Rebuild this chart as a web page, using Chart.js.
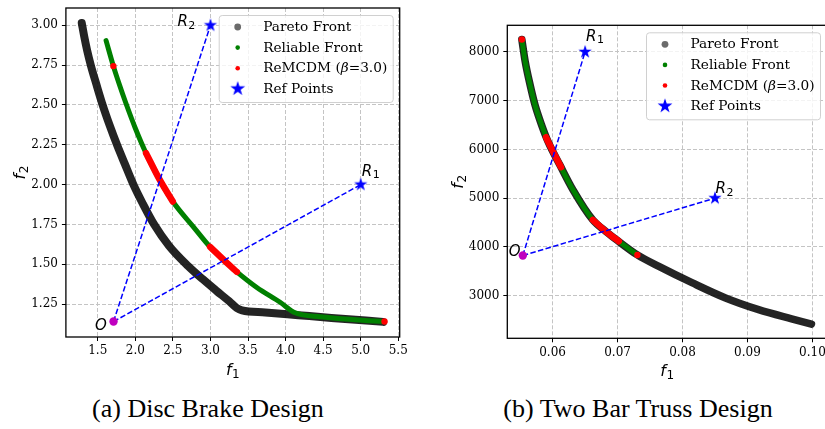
<!DOCTYPE html>
<html>
<head>
<meta charset="utf-8">
<script src="https://cdn.jsdelivr.net/npm/chart.js@4.4.0/dist/chart.umd.min.js"></script>
<style>
  body { margin: 0; background: #fff; width: 825px; height: 429px; overflow: hidden; position: relative; }
  canvas { position: absolute; top: 0; }
  #discChart { left: 0; }
  #trussChart { left: 415px; }
  .caption { position: absolute; top: 394px; width: 400px; text-align: center;
             font-family: "Liberation Serif", serif; font-size: 26px; color: #000; white-space: nowrap; }
</style>
</head>
<body>
<canvas id="discChart" width="415" height="390"></canvas>
<canvas id="trussChart" width="420" height="390"></canvas>
<div class="caption" style="left: 8px;">(a) Disc Brake Design</div>
<div class="caption" style="left: 438px;">(b) Two Bar Truss Design</div>

<script>
// ---- (a) Disc brake design ----
const discParetoX = [1.287, 1.32, 1.36, 1.41, 1.48, 1.565, 1.66, 1.76, 1.86, 1.975, 2.10, 2.25, 2.45, 2.70, 2.90, 3.08, 3.25, 3.35, 3.42, 3.73, 4.17, 4.61, 5.30];
const discParetoY = [3.015, 2.93, 2.84, 2.745, 2.632, 2.50, 2.37, 2.245, 2.13, 2.00, 1.88, 1.75, 1.615, 1.49, 1.405, 1.333, 1.267, 1.225, 1.21, 1.197, 1.180, 1.163, 1.138];
const discReliableX = [1.611, 1.708, 1.79, 1.87, 2.0, 2.143, 2.32, 2.499, 2.773, 2.995, 3.226, 3.351, 3.617, 3.927, 4.127, 4.46, 5.30];
const discReliableY = [2.904, 2.744, 2.625, 2.517, 2.354, 2.197, 2.034, 1.894, 1.735, 1.609, 1.505, 1.452, 1.354, 1.261, 1.195, 1.170, 1.140];
const discRemcdmAX = [2.143, 2.32, 2.499];
const discRemcdmAY = [2.197, 2.034, 1.894];
const discRemcdmBX = [2.995, 3.226, 3.351];
const discRemcdmBY = [1.609, 1.505, 1.452];
const discRemcdmDotX = [1.708, 5.317];
const discRemcdmDotY = [2.744, 1.140];
const discRefX = [5.0, 3.0];
const discRefY = [2.0, 3.0];
const discOriginX = [1.71];
const discOriginY = [1.14];
const discXTicks = [1.5, 2.0, 2.5, 3.0, 3.5, 4.0, 4.5, 5.0, 5.5];
const discYTicks = [1.25, 1.50, 1.75, 2.00, 2.25, 2.50, 2.75, 3.00];

// ---- (b) Two bar truss design ----
const trussParetoX = [0.05527, 0.05578, 0.05654, 0.0573, 0.05832, 0.05933, 0.06111, 0.06314, 0.06619, 0.06823, 0.0700, 0.07305, 0.07636, 0.08153, 0.08662, 0.09171, 0.09679, 0.09985];
const trussParetoY = [8254, 7806, 7324, 6911, 6498, 6153, 5684, 5171, 4554, 4314, 4130, 3836, 3600, 3261, 2953, 2713, 2525, 2418];
const trussReliableX = [0.05527, 0.05578, 0.05654, 0.0573, 0.05832, 0.05933, 0.06111, 0.06314, 0.06619, 0.06823, 0.0700, 0.07305];
const trussReliableY = [8254, 7806, 7324, 6911, 6498, 6153, 5684, 5171, 4554, 4314, 4130, 3836];
const trussRemcdmAX = [0.0590, 0.05933, 0.0603, 0.0613];
const trussRemcdmAY = [6250, 6153, 5897, 5636];
const trussRemcdmBX = [0.06619, 0.06823, 0.0702];
const trussRemcdmBY = [4554, 4314, 4115];
const trussRemcdmDotX = [0.05527, 0.07305];
const trussRemcdmDotY = [8254, 3836];
const trussRefX = [0.065, 0.085];
const trussRefY = [8000, 5000];
const trussOriginX = [0.05542];
const trussOriginY = [3824];
const trussXTicks = [0.06, 0.07, 0.08, 0.09, 0.10];
const trussYTicks = [3000, 4000, 5000, 6000, 7000, 8000];

const legendLabels = ['Pareto Front', 'Reliable Front', 'ReMCDM (β=3.0)', 'Ref Points'];

const pts = (xs, ys) => xs.map((x, i) => ({ x: x, y: ys[i] }));

// filled five point star, like matplotlib's '*' marker
function starImage(radius) {
    const size = Math.ceil(radius * 2 + 2);
    const c = document.createElement('canvas');
    c.width = size;
    c.height = size;
    const g = c.getContext('2d');
    g.beginPath();
    for (let i = 0; i < 10; i++) {
        const r = i % 2 === 0 ? radius : radius * 0.382;
        const a = -Math.PI / 2 + i * Math.PI / 5;
        g.lineTo(size / 2 + r * Math.cos(a), size / 2 + r * Math.sin(a));
    }
    g.closePath();
    g.fillStyle = '#0000ff';
    g.fill();
    return c;
}
const plotStar = starImage(7);
const legendStar = starImage(7.8);

function band(data, color, width, order) {
    return {
        data: data, showLine: true, borderColor: color, borderWidth: width,
        pointRadius: 0, cubicInterpolationMode: 'monotone',
        borderCapStyle: 'round', borderJoinStyle: 'round', order: order
    };
}

function axisOptions(min, max, ticks, decimals, size, isX) {
    return {
        type: 'linear', min: min, max: max,
        afterBuildTicks: axis => { axis.ticks = ticks.map(v => ({ value: v })); },
        afterFit: axis => {
            if (isX) axis.height = size; else axis.width = size;
            axis.paddingLeft = axis.paddingRight = axis.paddingTop = axis.paddingBottom = 0;
        },
        ticks: {
            callback: v => v.toFixed(decimals),
            font: { family: 'DejaVu Serif', size: 12 }, color: '#000',
            padding: isX ? 3 : 4, maxRotation: 0, autoSkip: false
        },
        grid: { color: '#c4c4c4', lineWidth: 1, tickLength: 4, tickColor: '#000', tickWidth: 1 },
        border: { display: false, dash: [4, 2] }
    };
}

// full box around the axes, as matplotlib draws all four spines
const framePlugin = {
    id: 'frame',
    afterDatasetsDraw(chart) {
        const { ctx, chartArea: a } = chart;
        ctx.save();
        ctx.strokeStyle = '#000';
        ctx.lineWidth = 1.3;
        ctx.strokeRect(a.left, a.top, a.right - a.left, a.bottom - a.top);
        ctx.restore();
    }
};

// italic symbol with an upright subscript, like matplotlib mathtext
function drawMath(ctx, text, sub, x, y, size, align) {
    ctx.font = 'italic ' + size + 'px "DejaVu Sans"';
    const w1 = ctx.measureText(text).width;
    const subSize = Math.round(size * 0.72);
    ctx.font = subSize + 'px "DejaVu Sans"';
    const w2 = sub ? ctx.measureText(sub).width : 0;
    const x0 = align === 'center' ? x - (w1 + w2 + 0.5) / 2 : x;
    ctx.font = 'italic ' + size + 'px "DejaVu Sans"';
    ctx.fillText(text, x0, y);
    if (sub) {
        ctx.font = subSize + 'px "DejaVu Sans"';
        ctx.fillText(sub, x0 + w1 + 0.5, y + size * 0.17);
    }
}

const axisTitlePlugin = {
    id: 'axisTitles',
    afterDraw(chart, args, opts) {
        const { ctx, chartArea: a } = chart;
        ctx.save();
        ctx.fillStyle = '#000';
        ctx.textBaseline = 'alphabetic';
        ctx.textAlign = 'left';
        drawMath(ctx, 'f', '1', (a.left + a.right) / 2, a.bottom + opts.xGap, 16, 'center');
        ctx.translate(a.left - opts.yGap, (a.top + a.bottom) / 2);
        ctx.rotate(-Math.PI / 2);
        drawMath(ctx, 'f', '2', 0, 0, 16, 'center');
        ctx.restore();
    }
};

// draw text with an italic beta
function drawRich(ctx, text, x, y, size) {
    const parts = text.split('β');
    let cx = x;
    parts.forEach((p, i) => {
        ctx.font = size + 'px "DejaVu Serif"';
        ctx.fillText(p, cx, y);
        cx += ctx.measureText(p).width;
        if (i < parts.length - 1) {
            ctx.font = 'italic ' + size + 'px "DejaVu Serif"';
            ctx.fillText('β', cx, y);
            cx += ctx.measureText('β').width;
        }
    });
}

const legendPlugin = {
    id: 'mplLegend',
    afterDraw(chart) {
        const { ctx, chartArea: a } = chart;
        const w = 174, h = 87;
        const x0 = a.right - 7 - w, y0 = a.top + 7;
        ctx.save();
        ctx.beginPath();
        ctx.roundRect(x0 + 0.5, y0 + 0.5, w, h, 3);
        ctx.fillStyle = 'rgba(255,255,255,0.8)';
        ctx.fill();
        ctx.strokeStyle = '#d0d0d0';
        ctx.lineWidth = 1;
        ctx.stroke();
        const markers = [
            { color: '#6b6b6b', r: 3.4 },
            { color: '#008000', r: 2.3 },
            { color: '#ff0000', r: 2.3 },
            { star: true }
        ];
        legendLabels.forEach((label, i) => {
            const cy = y0 + 12 + i * 20.6;
            const mx = x0 + 19;
            const m = markers[i];
            if (m.star) {
                ctx.drawImage(legendStar, mx - legendStar.width / 2, cy - legendStar.height / 2);
            } else {
                ctx.beginPath();
                ctx.arc(mx, cy, m.r, 0, Math.PI * 2);
                ctx.fillStyle = m.color;
                ctx.fill();
            }
            ctx.fillStyle = '#000';
            ctx.textBaseline = 'middle';
            ctx.textAlign = 'left';
            drawRich(ctx, label, x0 + 44.5, cy + 0.5, 13.7);
        });
        ctx.restore();
    }
};

// R1, R2 and O labels, placed next to their points
const labelPlugin = {
    id: 'pointLabels',
    afterDatasetsDraw(chart, args, opts) {
        const { ctx, scales } = chart;
        ctx.save();
        ctx.fillStyle = '#000';
        ctx.textBaseline = 'alphabetic';
        ctx.textAlign = 'left';
        (opts.items || []).forEach(it => {
            const px = scales.x.getPixelForValue(it.x) + it.dx;
            const py = scales.y.getPixelForValue(it.y) + it.dy;
            drawMath(ctx, it.text, it.sub, px, py, 15, 'left');
        });
        ctx.restore();
    }
};

function buildChart(id, d) {
    const origin = pts(d.originX, d.originY);
    const refs = pts(d.refX, d.refY);
    const datasets = [
        band(pts(d.paretoX, d.paretoY), 'rgba(12,12,12,0.9)', d.blackWidth, 9),
        band(pts(d.reliableX, d.reliableY), '#008000', d.greenWidth, 8),
        band(pts(d.redAX, d.redAY), '#ff0000', d.redWidth, 7),
        band(pts(d.redBX, d.redBY), '#ff0000', d.redWidth, 7),
        { data: pts(d.redDotX, d.redDotY), pointRadius: 3.2, backgroundColor: '#ff0000', borderWidth: 0, order: 6 },
        { data: [origin[0], refs[0]], showLine: true, borderColor: '#0000ff', borderWidth: 1.5,
          borderDash: [5.5, 2.4], pointRadius: 0, order: 3 },
        { data: [origin[0], refs[1]], showLine: true, borderColor: '#0000ff', borderWidth: 1.5,
          borderDash: [5.5, 2.4], pointRadius: 0, order: 3 },
        { data: refs, pointStyle: plotStar, pointRadius: 7, order: 2 },
        { data: origin, pointRadius: 4.2, backgroundColor: '#bf00bf', borderWidth: 0, order: 1 }
    ];
    const labels = d.labels.map(l => {
        const p = l.ref === 'O' ? origin[0] : refs[l.ref];
        return Object.assign({ x: p.x, y: p.y }, l);
    });
    return new Chart(document.getElementById(id), {
        type: 'scatter',
        data: { datasets: datasets },
        options: {
            responsive: false,
            animation: false,
            events: [],
            layout: { padding: d.padding },
            plugins: {
                legend: { display: false },
                tooltip: { enabled: false },
                pointLabels: { items: labels },
                axisTitles: { xGap: 38, yGap: d.yTitleGap }
            },
            scales: {
                x: axisOptions(d.xMin, d.xMax, d.xTicks, d.xDec, d.xAxisHeight, true),
                y: axisOptions(d.yMin, d.yMax, d.yTicks, d.yDec, d.yAxisWidth, false)
            }
        },
        plugins: [framePlugin, labelPlugin, legendPlugin, axisTitlePlugin]
    });
}

buildChart('discChart', {
    paretoX: discParetoX, paretoY: discParetoY,
    reliableX: discReliableX, reliableY: discReliableY,
    redAX: discRemcdmAX, redAY: discRemcdmAY, redBX: discRemcdmBX, redBY: discRemcdmBY,
    redDotX: discRemcdmDotX, redDotY: discRemcdmDotY,
    refX: discRefX, refY: discRefY, originX: discOriginX, originY: discOriginY,
    xTicks: discXTicks, yTicks: discYTicks, xDec: 1, yDec: 2,
    xMin: 1.076, xMax: 5.519, yMin: 1.043, yMax: 3.109,
    blackWidth: 8, greenWidth: 5, redWidth: 6.5,
    padding: { top: 6, right: 15.3, bottom: 0, left: 0 },
    yAxisWidth: 65.9, xAxisHeight: 53, yTitleGap: 41,
    labels: [
        { ref: 1, text: 'R', sub: '2', dx: -33, dy: 1 },
        { ref: 0, text: 'R', sub: '1', dx: 1, dy: -9 },
        { ref: 'O', text: 'O', dx: -18.5, dy: 8 }
    ]
});

buildChart('trussChart', {
    paretoX: trussParetoX, paretoY: trussParetoY,
    reliableX: trussReliableX, reliableY: trussReliableY,
    redAX: trussRemcdmAX, redAY: trussRemcdmAY, redBX: trussRemcdmBX, redBY: trussRemcdmBY,
    redDotX: trussRemcdmDotX, redDotY: trussRemcdmDotY,
    refX: trussRefX, refY: trussRefY, originX: trussOriginX, originY: trussOriginY,
    xTicks: trussXTicks, yTicks: trussYTicks, xDec: 2, yDec: 0,
    xMin: 0.05303, xMax: 0.10224, yMin: 2126, yMax: 8546,
    blackWidth: 7.5, greenWidth: 5, redWidth: 6.5,
    padding: { top: 25.3, right: 6, bottom: 0, left: 0 },
    yAxisWidth: 92.3, xAxisHeight: 51.7, yTitleGap: 44,
    labels: [
        { ref: 0, text: 'R', sub: '1', dx: 1, dy: -11.3 },
        { ref: 1, text: 'R', sub: '2', dx: 0.5, dy: -5 },
        { ref: 'O', text: 'O', dx: -14, dy: 0 }
    ]
});
</script>
</body>
</html>
